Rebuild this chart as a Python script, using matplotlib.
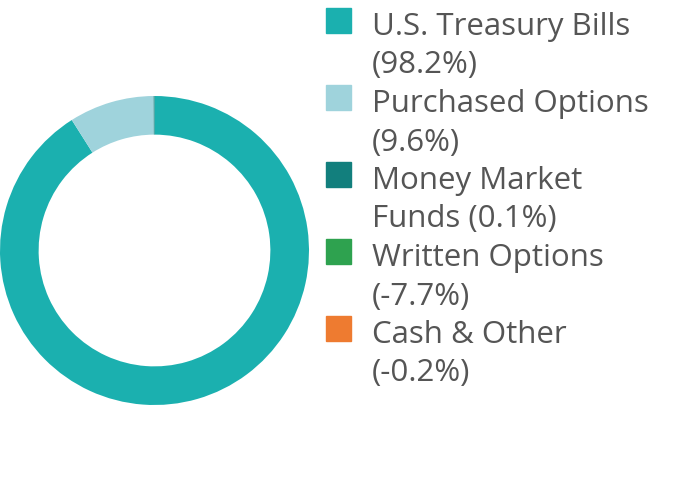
import matplotlib.pyplot as plt
from matplotlib.patches import Rectangle

# Holdings breakdown
labels = ['U.S. Treasury Bills', 'Purchased Options', 'Money Market\nFunds',
          'Written Options', 'Cash & Other']
values = [98.2, 9.6, 0.1, -7.7, -0.2]
colors = ['#1bb0af', '#9fd3dc', '#127f7d', '#2ea24f', '#ee7b30']

W, H = 675, 500
fig = plt.figure(figsize=(W / 100, H / 100), dpi=100)

# donut: only positive weights are drawn
pos = [(v, c) for v, c in zip(values, colors) if v > 0]
ax = fig.add_axes([0 / W, (H - 405) / H, 309 / W, 309 / H])
ax.pie([p[0] for p in pos], colors=[p[1] for p in pos], startangle=90,
       counterclock=False, radius=1,
       wedgeprops=dict(width=0.25, linewidth=0))
ax.set_xlim(-1, 1)
ax.set_ylim(-1, 1)
ax.set_aspect('equal')
ax.axis('off')

# legend drawn by hand, one text per line
for i, (lab, val, col) in enumerate(zip(labels, values, colors)):
    top = 8 + 77 * i
    fig.patches.append(Rectangle((326 / W, (H - top - 25) / H), 25 / W, 25 / H,
                                 transform=fig.transFigure, color=col))
    if '\n' in lab:
        lines = (lab + f' ({val}%)').split('\n')
    else:
        lines = [lab, f'({val}%)']
    for j, ln in enumerate(lines):
        base = 35 + 77 * i + 38.5 * j
        fig.text(372 / W, (H - base) / H, ln, fontsize=22.5,
                 family='Open Sans', color='#555555', va='baseline', ha='left')

fig.savefig('out.png', dpi=100)
